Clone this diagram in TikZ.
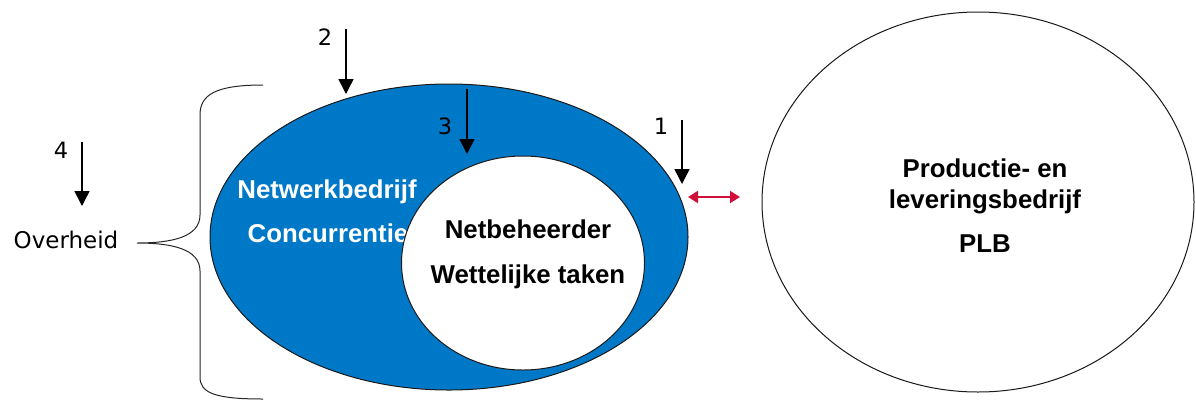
\documentclass[tikz,border=0pt]{standalone}
\usepackage{fontspec}
\setmainfont{Liberation Sans}
\newfontfamily\verd{DejaVu Sans}
\usetikzlibrary{arrows.meta,shapes.geometric}
\definecolor{netblue}{RGB}{0,120,200}
\definecolor{linkred}{RGB}{208,16,58}
\begin{document}
\begin{tikzpicture}[x=1pt,y=-1pt,
  outline/.style={draw=black!90, line width=1pt, ellipse, inner sep=0pt},
  boldlabel/.style={font=\fontsize{25.8}{28}\selectfont\bfseries, anchor=base, inner sep=0pt},
  numlabel/.style={font=\verd\fontsize{22.5}{24}\selectfont, inner sep=0pt},
  downarrow/.style={-{Triangle[length=15pt,width=15pt]}, line width=1.5pt},
  linkarrow/.style={{Triangle[length=10pt,width=12pt]}-{Triangle[length=10pt,width=12pt]}, line width=2pt, linkred},
  bracestyle/.style={line width=1pt, black!85},
]
\useasboundingbox (0,0) rectangle (1196,400);

% network company with the grid operator inside it
\node[outline, fill=netblue, minimum width=478pt, minimum height=306pt] (net) at (449,237) {};
\node[boldlabel, text=white] (nb) at (327,198) {Netwerkbedrijf};
\node[boldlabel, text=white] (conc) at (328,242) {Concurrentie};
\node[outline, fill=white, minimum width=243pt, minimum height=214pt] (nbh) at (523,263) {};
\node[boldlabel] (nbhl) at (528,238) {Netbeheerder};
\node[boldlabel] (wt) at (528,283) {Wettelijke taken};

% production and supply company
\node[outline, fill=white, minimum width=432pt, minimum height=380pt] (plb) at (978,202) {};
\node[boldlabel] (p1) at (985,177) {Productie- en};
\node[boldlabel] (p2) at (985,208) {leveringsbedrijf};
\node[boldlabel] (p3) at (985,252) {PLB};

% government and its brace
\node[font=\verd\fontsize{23}{24}\selectfont, anchor=base, inner sep=0pt] (ov) at (66,248) {Overheid};
\coordinate (bt) at (137,243);
\draw[bracestyle] (263,85) .. controls (215,85) and (200,95) .. (200,115) -- (200,215)
  .. controls (200,237) and (172,243) .. (bt)
  .. controls (172,243) and (200,249) .. (200,271) -- (200,377)
  .. controls (200,393) and (215,399) .. (263,399);

% numbered markers
\node[numlabel] (n1) at (661,126) {1};
\node[numlabel] (n2) at (325,37) {2};
\node[numlabel] (n3) at (445,126) {3};
\node[numlabel] (n4) at (61,150) {4};
\coordinate (a1s) at (682,120); \coordinate (a1e) at (682,184);
\coordinate (a2s) at (346,29);  \coordinate (a2e) at (346,94);
\coordinate (a3s) at (467,89);  \coordinate (a3e) at (467,154);
\coordinate (a4s) at (82,142);  \coordinate (a4e) at (82,206);
\draw[downarrow] (a1s) -- (a1e);
\draw[downarrow] (a2s) -- (a2e);
\draw[downarrow] (a3s) -- (a3e);
\draw[downarrow] (a4s) -- (a4e);

% link between the two companies
\coordinate (ls) at (688,197); \coordinate (le) at (740,197);
\draw[linkarrow] (ls) -- (le);
\end{tikzpicture}
\end{document}
